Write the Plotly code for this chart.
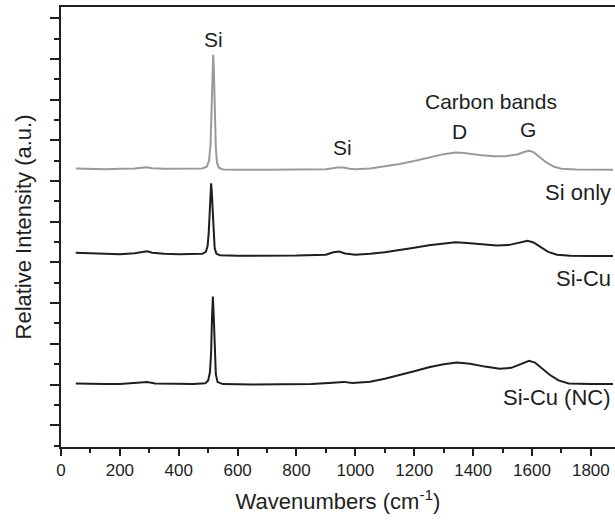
import plotly.graph_objects as go

# ---- data (wavenumber, relative intensity, offset per trace) ----
si_only_x = [50, 100, 150, 200, 250, 290, 310, 350, 400, 450, 480, 495, 503, 508, 512, 515, 517, 519, 522, 526, 530, 536,
             550, 600, 700, 800, 900, 940, 960, 980, 1000, 1050, 1100, 1150, 1200, 1250, 1300, 1340, 1370, 1420, 1470,
             1510, 1550, 1575, 1590, 1605, 1625, 1650, 1675, 1700, 1750, 1800, 1875]
si_only_y = [13.62, 13.60, 13.58, 13.60, 13.62, 13.68, 13.63, 13.60, 13.60, 13.60, 13.62, 13.70, 14.0, 14.8, 16.8, 18.6,
             19.2, 18.6, 16.6, 14.6, 13.9, 13.65, 13.57, 13.55, 13.55, 13.56, 13.58, 13.66, 13.66, 13.60, 13.58, 13.62,
             13.72, 13.84, 13.98, 14.15, 14.32, 14.40, 14.38, 14.28, 14.22, 14.22, 14.30, 14.44, 14.49, 14.42, 14.20,
             13.90, 13.70, 13.60, 13.56, 13.55, 13.55]

si_cu_x = [50, 100, 150, 200, 250, 280, 293, 310, 350, 400, 450, 480, 492, 498, 502, 505, 508, 510, 512, 515, 518, 522,
           528, 540, 600, 700, 800, 900, 925, 945, 965, 1000, 1050, 1100, 1150, 1200, 1250, 1300, 1340, 1380, 1430,
           1480, 1520, 1555, 1585, 1605, 1630, 1655, 1685, 1730, 1800, 1875]
si_cu_y = [9.47, 9.44, 9.40, 9.40, 9.45, 9.50, 9.55, 9.48, 9.42, 9.40, 9.40, 9.42, 9.52, 9.8, 10.5, 11.5, 12.5, 12.89,
           12.5, 11.4, 10.3, 9.7, 9.42, 9.35, 9.33, 9.33, 9.34, 9.38, 9.50, 9.53, 9.44, 9.38, 9.42, 9.50, 9.60, 9.72,
           9.84, 9.93, 9.99, 9.95, 9.88, 9.83, 9.85, 9.95, 10.06, 9.98, 9.75, 9.52, 9.38, 9.33, 9.32, 9.32]

si_cu_nc_x = [50, 100, 150, 200, 250, 293, 320, 400, 450, 490, 500, 506, 510, 513, 516, 519, 522, 526, 532, 550, 650,
              750, 850, 910, 940, 960, 990, 1050, 1100, 1150, 1200, 1250, 1300, 1345, 1390, 1440, 1490, 1530, 1560,
              1590, 1610, 1635, 1660, 1690, 1725, 1800, 1875]
si_cu_nc_y = [3.05, 3.03, 3.02, 3.03, 3.06, 3.12, 3.05, 3.03, 3.03, 3.06, 3.2, 3.6, 4.6, 6.3, 7.32, 6.3, 4.6, 3.5, 3.12,
              3.02, 3.00, 3.01, 3.03, 3.08, 3.13, 3.13, 3.08, 3.14, 3.28, 3.45, 3.65, 3.85, 4.00, 4.08, 4.02, 3.88,
              3.78, 3.82, 3.98, 4.16, 4.08, 3.80, 3.48, 3.20, 3.05, 3.02, 3.02]

series_names = ["Si only", "Si-Cu", "Si-Cu (NC)"]
series_colors = ["#9a9a9a", "#1e1e1e", "#1e1e1e"]

x_ticks = [0, 200, 400, 600, 800, 1000, 1200, 1400, 1600, 1800]

# peak annotations: (text, wavenumber, y)
peak_labels = [("Si", 517, 19.93), ("Si", 956, 14.63), ("Carbon bands", 1462, 16.89),
               ("D", 1353, 15.41), ("G", 1587, 15.51)]
# series labels: (text, y)
series_labels = [("Si only", 12.46), ("Si-Cu", 8.19), ("Si-Cu (NC)", 2.34)]

FONT = "Liberation Sans, Arial, sans-serif"
INK = "#1e1e1e"

fig = go.Figure()
for name, xs, ys, col in zip(series_names, [si_only_x, si_cu_x, si_cu_nc_x],
                             [si_only_y, si_cu_y, si_cu_nc_y], series_colors):
    fig.add_trace(go.Scatter(x=xs, y=ys, mode="lines", name=name,
                             line=dict(color=col, width=2), showlegend=False))

for txt, x, y in peak_labels:
    fig.add_annotation(x=x, y=y, text=txt, showarrow=False, xref="x", yref="y",
                       font=dict(family=FONT, size=21, color=INK))
for txt, y in series_labels:
    fig.add_annotation(x=1, y=y, text=txt, showarrow=False, xref="paper", yref="y",
                       xanchor="right", xshift=-2, font=dict(family=FONT, size=22, color=INK))

fig.update_layout(
    width=615, height=521,
    margin=dict(l=61, r=0, t=7, b=74),
    paper_bgcolor="white", plot_bgcolor="white",
    font=dict(family=FONT, color=INK),
    xaxis=dict(range=[0, 1882], showgrid=False, zeroline=False,
               showline=True, linecolor=INK, linewidth=2, mirror=True,
               tickmode="array", tickvals=x_ticks, ticktext=[str(v) for v in x_ticks],
               ticks="outside", ticklen=7, tickwidth=2, tickcolor=INK,
               tickfont=dict(family=FONT, size=17, color=INK),
               minor=dict(dtick=100, tick0=0, ticks="outside", ticklen=4, tickwidth=2, tickcolor=INK),
               title=dict(text="Wavenumbers (cm<sup>-1</sup>)", font=dict(family=FONT, size=22, color=INK),
                          standoff=14)),
    yaxis=dict(range=[-0.07, 21.55], showgrid=False, zeroline=False,
               showline=True, linecolor=INK, linewidth=2, mirror=False,
               tickmode="linear", tick0=1, dtick=2, showticklabels=False,
               ticks="outside", ticklen=9, tickwidth=2, tickcolor=INK,
               minor=dict(dtick=1, tick0=0, ticks="outside", ticklen=5, tickwidth=2, tickcolor=INK),
               title=dict(text="Relative Intensity (a.u.)", font=dict(family=FONT, size=22, color=INK),
                          standoff=12)),
)

fig.write_html("out.html")
